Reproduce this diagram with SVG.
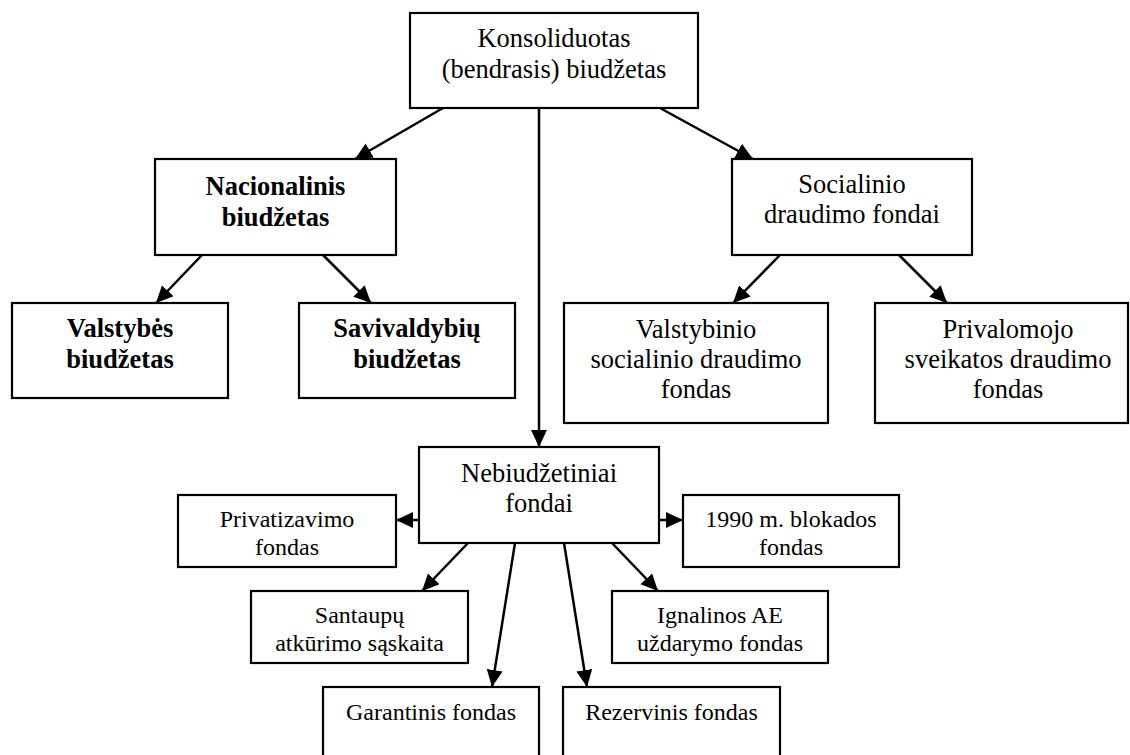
<svg xmlns="http://www.w3.org/2000/svg" width="1130" height="755" viewBox="0 0 1130 755">
<defs>
<style>
.box{fill:#fff;stroke:#000;stroke-width:2.2}
.t{font-family:"Liberation Serif","Times New Roman",serif;font-size:26.5px;text-anchor:middle;fill:#000}
.s{font-size:24px}
.b{font-weight:bold}
.c{stroke:#000;stroke-width:2.5;fill:none;marker-end:url(#ah)}
</style>
<marker id="ah" markerWidth="20" markerHeight="18" refX="17" refY="8" orient="auto" markerUnits="userSpaceOnUse">
<path d="M0,0 L17,8 L0,16 z" fill="#000"/>
</marker>
</defs>
<rect width="1130" height="755" fill="#fff"/>
<g id="connectors">
<line class="c" x1="443" y1="108" x2="355" y2="159"/>
<line class="c" x1="539" y1="108" x2="539" y2="447"/>
<line class="c" x1="660" y1="108" x2="753" y2="159"/>
<line class="c" x1="202" y1="255" x2="156" y2="303"/>
<line class="c" x1="323" y1="255" x2="371" y2="303"/>
<line class="c" x1="780" y1="255" x2="733" y2="303"/>
<line class="c" x1="899" y1="255" x2="947" y2="303"/>
<line class="c" x1="419" y1="520" x2="396" y2="520"/>
<line class="c" x1="659" y1="520" x2="683" y2="520"/>
<line class="c" x1="468" y1="543" x2="422" y2="591"/>
<line class="c" x1="515" y1="543" x2="492" y2="687"/>
<line class="c" x1="564" y1="543" x2="587" y2="687"/>
<line class="c" x1="612" y1="543" x2="658" y2="591"/>
</g>
<g id="konsoliduotas">
<rect class="box" x="410" y="13" width="288" height="95"/>
<text class="t" x="554" y="47">Konsoliduotas</text>
<text class="t" x="554" y="78">(bendrasis) biudžetas</text>
</g>
<g id="nacionalinis">
<rect class="box" x="155" y="159" width="241" height="96"/>
<text class="t b" x="275.5" y="195">Nacionalinis</text>
<text class="t b" x="275.5" y="226">biudžetas</text>
</g>
<g id="socialinio">
<rect class="box" x="732" y="159" width="240" height="96"/>
<text class="t" x="852" y="193">Socialinio</text>
<text class="t" x="852" y="223">draudimo fondai</text>
</g>
<g id="valstybes">
<rect class="box" x="12" y="303" width="216" height="95"/>
<text class="t b" x="120" y="337">Valstybės</text>
<text class="t b" x="120" y="368">biudžetas</text>
</g>
<g id="savivaldybiu">
<rect class="box" x="299" y="303" width="216" height="95"/>
<text class="t b" x="407" y="337">Savivaldybių</text>
<text class="t b" x="407" y="368">biudžetas</text>
</g>
<g id="valstybinio">
<rect class="box" x="564" y="303" width="264" height="120"/>
<text class="t" x="696" y="338">Valstybinio</text>
<text class="t" x="696" y="368">socialinio draudimo</text>
<text class="t" x="696" y="398">fondas</text>
</g>
<g id="privalomojo">
<rect class="box" x="875" y="303" width="253" height="120"/>
<text class="t" x="1008" y="338">Privalomojo</text>
<text class="t" x="1008" y="368">sveikatos draudimo</text>
<text class="t" x="1008" y="398">fondas</text>
</g>
<g id="nebiudzetiniai">
<rect class="box" x="419" y="447" width="240" height="96"/>
<text class="t" x="539" y="482">Nebiudžetiniai</text>
<text class="t" x="539" y="512">fondai</text>
</g>
<g id="privatizavimo">
<rect class="box" x="178" y="495" width="218" height="72"/>
<text class="t s" x="287" y="527">Privatizavimo</text>
<text class="t s" x="287" y="555">fondas</text>
</g>
<g id="blokados">
<rect class="box" x="683" y="495" width="216" height="72"/>
<text class="t s" x="791" y="527">1990 m. blokados</text>
<text class="t s" x="791" y="555">fondas</text>
</g>
<g id="santaupu">
<rect class="box" x="251" y="591" width="217" height="72"/>
<text class="t s" x="359.5" y="623">Santaupų</text>
<text class="t s" x="359.5" y="651">atkūrimo sąskaita</text>
</g>
<g id="ignalinos">
<rect class="box" x="612" y="591" width="216" height="72"/>
<text class="t s" x="720" y="623">Ignalinos AE</text>
<text class="t s" x="720" y="651">uždarymo fondas</text>
</g>
<g id="garantinis">
<rect class="box" x="323" y="687" width="216" height="80"/>
<text class="t s" x="431" y="720">Garantinis fondas</text>
</g>
<g id="rezervinis">
<rect class="box" x="563" y="687" width="217" height="80"/>
<text class="t s" x="671.5" y="720">Rezervinis fondas</text>
</g>
</svg>
